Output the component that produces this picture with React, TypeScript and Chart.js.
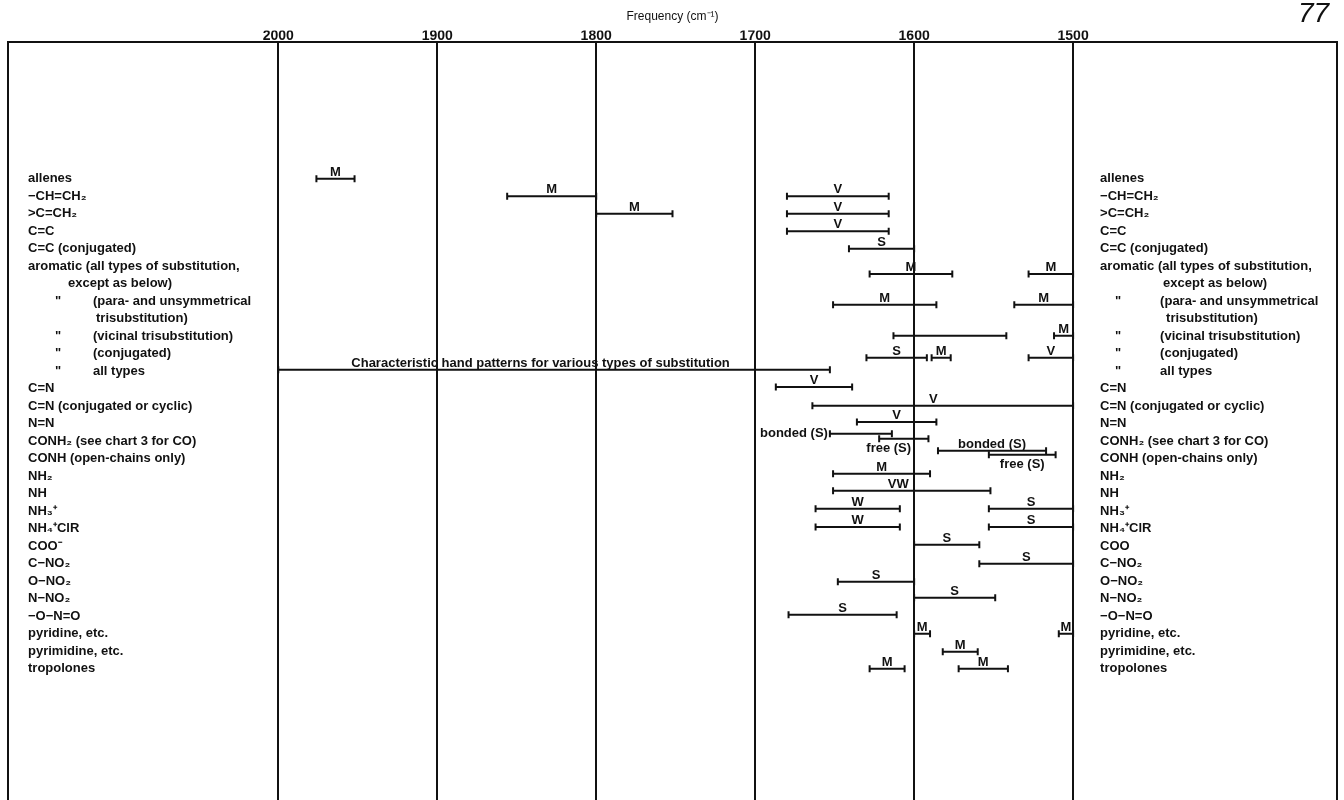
import { useEffect, useRef } from 'react';
import { Chart, registerables } from 'chart.js';

Chart.register(...registerables);

// Frequency axis (cm-1), high values on the left
const freqTicks = [2000, 1900, 1800, 1700, 1600, 1500];
const freqLeftEdge = 2170;
const freqRightEdge = 1334;
const rowTop = -7.8;
const rowBottom = 35.5;

// Text column rows: [ditto mark, text, indent kind]
const leftLines: [string, string, number][] = [
  ['', 'allenes', 0],
  ['', '−CH=CH₂', 0],
  ['', '>C=CH₂', 0],
  ['', 'C=C', 0],
  ['', 'C=C (conjugated)', 0],
  ['', 'aromatic (all types of substitution,', 0],
  ['', 'except as below)', 1],
  ['"', '(para- and unsymmetrical', 2],
  ['', 'trisubstitution)', 3],
  ['"', '(vicinal trisubstitution)', 2],
  ['"', '(conjugated)', 2],
  ['"', 'all types', 2],
  ['', 'C=N', 0],
  ['', 'C=N (conjugated or cyclic)', 0],
  ['', 'N=N', 0],
  ['', 'CONH₂ (see chart 3 for CO)', 0],
  ['', 'CONH (open-chains only)', 0],
  ['', 'NH₂', 0],
  ['', 'NH', 0],
  ['', 'NH₃⁺', 0],
  ['', 'NH₄⁺ClR', 0],
  ['', 'COO⁻', 0],
  ['', 'C−NO₂', 0],
  ['', 'O−NO₂', 0],
  ['', 'N−NO₂', 0],
  ['', '−O−N=O', 0],
  ['', 'pyridine, etc.', 0],
  ['', 'pyrimidine, etc.', 0],
  ['', 'tropolones', 0],
];

const rightLines: [string, string, number][] = leftLines.map((l, i) =>
  i === 21 ? ['', 'COO', 0] : l
);

// Bands: [row, high freq, low freq, tag, tag placement, tag position (freq)]
const alkeneBands: [number, number, number, string, string, number?][] = [
  [0, 1976, 1952, 'M', 'above'],
  [1, 1856, 1800, 'M', 'above'],
  [1, 1680, 1616, 'V', 'above'],
  [2, 1800, 1752, 'M', 'above'],
  [2, 1680, 1616, 'V', 'above'],
  [3, 1680, 1616, 'V', 'above'],
  [4, 1641, 1600, 'S', 'above'],
];

const aromaticBands: [number, number, number, string, string, number?][] = [
  [5.43, 1628, 1576, 'M', 'above'],
  [5.43, 1528, 1500, 'M', 'above'],
  [7.2, 1651, 1586, 'M', 'above'],
  [7.2, 1537, 1500, 'M', 'above'],
  [8.97, 1613, 1542, '', 'above'],
  [8.97, 1512, 1500, 'M', 'above'],
  [10.23, 1630, 1592, 'S', 'above'],
  [10.23, 1589, 1577, 'M', 'above'],
  [10.23, 1528, 1500, 'V', 'above'],
  [10.91, 2000, 1653, 'Characteristic hand patterns for various types of substitution', 'above', 1835],
];

const nitrogenBands: [number, number, number, string, string, number?][] = [
  [11.89, 1687, 1639, 'V', 'above'],
  [12.97, 1664, 1500, 'V', 'above', 1588],
  [13.89, 1636, 1586, 'V', 'above'],
  [14.57, 1653, 1614, 'bonded (S)', 'left'],
  [14.86, 1622, 1591, 'free (S)', 'below', 1616],
  [15.54, 1585, 1517, 'bonded (S)', 'above'],
  [15.77, 1553, 1511, 'free (S)', 'below'],
  [16.86, 1651, 1590, 'M', 'above'],
  [17.83, 1651, 1552, 'VW', 'above', 1610],
  [18.86, 1662, 1609, 'W', 'above'],
  [18.86, 1553, 1500, 'S', 'above'],
  [19.89, 1662, 1609, 'W', 'above'],
  [19.89, 1553, 1500, 'S', 'above'],
  [20.91, 1600, 1559, 'S', 'above'],
];

const nitroBands: [number, number, number, string, string, number?][] = [
  [22, 1559, 1500, 'S', 'above'],
  [23.03, 1648, 1600, 'S', 'above'],
  [23.94, 1600, 1549, 'S', 'above'],
  [24.91, 1679, 1611, 'S', 'above'],
];

const ringBands: [number, number, number, string, string, number?][] = [
  [26, 1600, 1590, 'M', 'above'],
  [26, 1509, 1500, 'M', 'above'],
  [27.03, 1582, 1560, 'M', 'above'],
  [28, 1628, 1606, 'M', 'above'],
  [28, 1572, 1541, 'M', 'above'],
];

const allBands = [...alkeneBands, ...aromaticBands, ...nitrogenBands, ...nitroBands, ...ringBands];

const INK = '#111111';
const TEXT_FONT = 'bold 13px "Liberation Sans", Arial, sans-serif';

const textPlugin = {
  id: 'irText',
  afterDatasetsDraw(chart: any) {
    const { ctx, chartArea, scales } = chart;
    const xs = scales.x;
    const ys = scales.y;
    ctx.save();
    ctx.fillStyle = INK;
    ctx.font = TEXT_FONT;

    // band tags
    allBands.forEach((b) => {
      const [row, hi, lo, tag, place, at] = b;
      if (!tag) return;
      const x1 = xs.getPixelForValue(hi);
      const x2 = xs.getPixelForValue(lo);
      const y = ys.getPixelForValue(row);
      const xm = at !== undefined ? xs.getPixelForValue(at) : (x1 + x2) / 2;
      if (place === 'left') {
        ctx.textAlign = 'right';
        ctx.textBaseline = 'middle';
        ctx.fillText(tag, Math.min(x1, x2) - 2, y);
      } else if (place === 'below') {
        ctx.textAlign = 'center';
        ctx.textBaseline = 'top';
        ctx.fillText(tag, xm, y + 3);
      } else {
        ctx.textAlign = 'center';
        ctx.textBaseline = 'alphabetic';
        ctx.fillText(tag, xm, y - 3);
      }
    });

    // text columns
    const drawColumn = (lines: [string, string, number][], baseX: number, indents: number[], dittoX: number) => {
      ctx.textAlign = 'left';
      ctx.textBaseline = 'middle';
      lines.forEach(([ditto, text, kind], i) => {
        const y = ys.getPixelForValue(i);
        if (ditto) ctx.fillText(ditto, baseX + dittoX, y);
        ctx.fillText(text, baseX + indents[kind], y);
      });
    };
    drawColumn(leftLines, chartArea.left + 20, [0, 40, 65, 68], 27);
    drawColumn(rightLines, xs.getPixelForValue(1500) + 27, [0, 63, 60, 66], 15);

    // page number
    ctx.font = 'italic 28px "Liberation Sans Narrow", "Liberation Sans", sans-serif';
    ctx.textAlign = 'left';
    ctx.textBaseline = 'alphabetic';
    ctx.fillText('77', 1298, 22);
    ctx.restore();
  },
};

export default function App() {
  const ref = useRef<HTMLCanvasElement>(null);

  useEffect(() => {
    if (!ref.current) return;
    const datasets = allBands.map(([row, hi, lo]) => ({
      data: [
        { x: hi, y: row },
        { x: lo, y: row },
      ],
      borderColor: INK,
      borderWidth: 2,
      pointStyle: 'line' as const,
      rotation: 90,
      pointRadius: 3.5,
      pointBorderWidth: 2,
      pointBorderColor: INK,
      pointBackgroundColor: INK,
      fill: false,
      tension: 0,
    }));

    const chart = new Chart(ref.current, {
      type: 'line',
      data: { datasets },
      options: {
        animation: false,
        responsive: false,
        devicePixelRatio: 1,
        events: [],
        layout: { autoPadding: false, padding: { left: 8, right: 7, top: 0, bottom: 0 } },
        plugins: {
          legend: { display: false },
          tooltip: { enabled: false },
          title: {
            display: true,
            text: 'Frequency (cm⁻¹)',
            color: INK,
            font: { family: '"Liberation Sans", Arial, sans-serif', size: 12, weight: 'normal', lineHeight: 1.2 },
            padding: { top: 9, bottom: 7 },
          },
        },
        scales: {
          x: {
            type: 'linear',
            position: 'top',
            reverse: true,
            min: freqRightEdge,
            max: freqLeftEdge,
            afterBuildTicks: (s: any) => {
              s.ticks = freqTicks.map((v) => ({ value: v }));
            },
            ticks: {
              color: INK,
              padding: -1,
              maxRotation: 0,
              autoSkip: false,
              font: { family: '"Liberation Sans Narrow", "Liberation Sans", sans-serif', size: 14, weight: 'bold', lineHeight: 1 },
              callback: (v: any) => String(v),
            },
            grid: { color: INK, lineWidth: 2, drawTicks: false },
            border: { display: true, color: INK, width: 2 },
          },
          y: {
            type: 'linear',
            position: 'left',
            reverse: true,
            min: rowTop,
            max: rowBottom,
            ticks: { display: false },
            grid: { display: false, drawTicks: false },
            border: { display: true, color: INK, width: 2 },
          },
          y2: {
            type: 'linear',
            position: 'right',
            reverse: true,
            min: rowTop,
            max: rowBottom,
            ticks: { display: false },
            grid: { display: false, drawTicks: false },
            border: { display: true, color: INK, width: 2 },
          },
        },
      },
      plugins: [textPlugin],
    } as any);
    return () => chart.destroy();
  }, []);

  return (
    <div style={{ position: 'absolute', left: 0, top: 0, width: 1344, height: 800, background: '#fff' }}>
      <canvas ref={ref} width={1344} height={800} />
    </div>
  );
}
